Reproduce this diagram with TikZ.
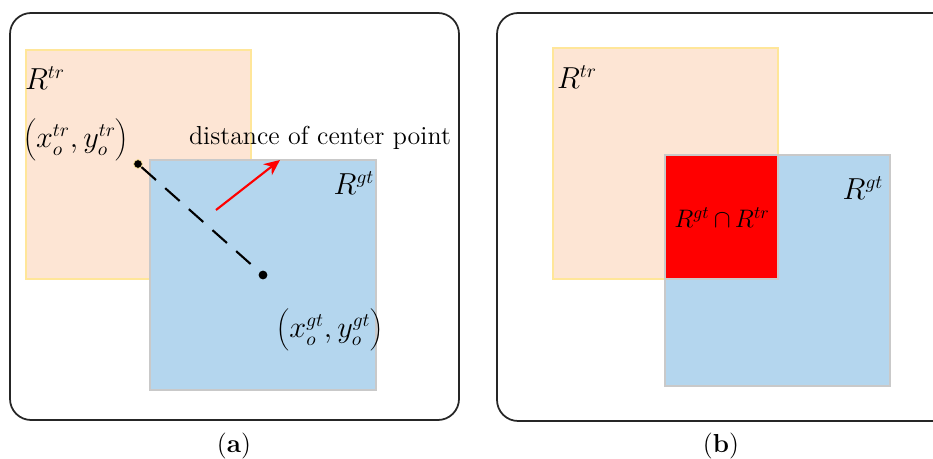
\documentclass[tikz,border=0pt]{standalone}
\usetikzlibrary{positioning,arrows.meta}
\definecolor{peach}{HTML}{FDE5D4}
\definecolor{peachedge}{HTML}{FFE699}
\definecolor{skyblue}{HTML}{B4D6EE}
\definecolor{skyedge}{HTML}{C9C9C9}
\definecolor{isect}{HTML}{FF0000}
\tikzset{
  frame/.style={draw=black!85, line width=1pt, rounded corners=12},
  trbox/.style={fill=peach, draw=peachedge, line width=0.8pt},
  gtbox/.style={fill=skyblue, draw=skyedge, line width=0.8pt},
  mathlbl/.style={font=\fontsize{16}{19}\selectfont, inner sep=0pt},
  txtlbl/.style={font=\fontsize{14.8}{17}\selectfont, inner sep=0pt},
  centerdot/.style={circle, fill=black, inner sep=0pt, minimum size=5pt}
}
\begin{document}
\begin{tikzpicture}[x=0.02cm, y=-0.02cm, >=stealth]
    \useasboundingbox (0,0) rectangle (933,459);

    % (a) 中心点距离
    \draw[frame] (10,13) rectangle (459,420);
    \draw[trbox] (26,50) rectangle (251,279);
    \draw[gtbox] (150,160) rectangle (376,390);
    \node[mathlbl] (rtrA) at (45,78) {$R^{tr}$};
    \node[mathlbl] (ptr) at (76,140) {$\biggl(x_o^{tr}{,}\,y_o^{tr}\biggr)$};
    \node[mathlbl] (rgtA) at (354,183) {$R^{gt}$};
    \node[mathlbl] (pgt) at (330,330) {$\biggl(x_o^{gt}{,}\,y_o^{gt}\biggr)$};
    \node[centerdot, draw=peachedge, line width=0.4pt] (ctr) at (138,164) {};
    \node[centerdot] (cgt) at (263,275) {};
    \draw[line width=1.2pt, dash pattern=on 11pt off 7pt] (ctr) -- (cgt);

    % 距离标注
    \node[txtlbl] (dist) at (320,138) {distance of center point};
    \coordinate (arrS) at (216,210);
    \coordinate (arrE) at (280,160);
    \draw[-{Stealth[length=9pt,width=8pt]}, red, line width=1.2pt] (arrS) -- (arrE);
    \node[txtlbl] (capA) at (234,446) {(\textbf{a})};

    % (b) 交集
    \draw[frame] (933,13) -- (497,13) -- (497,421) -- (933,421);
    \draw[trbox] (553,48) rectangle (778,279);
    \draw[gtbox] (665,155) rectangle (890,386);
    \draw[fill=isect, draw=skyedge, line width=0.8pt] (665,155) rectangle (778,279);
    \node[mathlbl] (rtrB) at (577,77) {$R^{tr}$};
    \node[mathlbl] (rgtB) at (863,188) {$R^{gt}$};
    \node[mathlbl, font=\fontsize{14.5}{17}\selectfont] (inter) at (722,218) {$R^{gt}\,{\cap}\,R^{tr}$};
    \node[txtlbl] (capB) at (721,446) {(\textbf{b})};
\end{tikzpicture}
\end{document}
